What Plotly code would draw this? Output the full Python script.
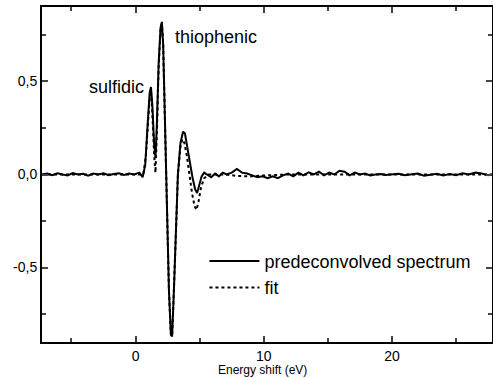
import plotly.graph_objects as go

# predeconvolved spectrum (solid)
spec_x = [-7.3, -6.9, -6.5, -6.1, -5.7, -5.3, -4.9, -4.5, -4.1, -3.7, -3.3, -2.9, -2.5, -2.1,
          -1.7, -1.3, -0.9, -0.5, -0.1, 0.3, 0.55, 0.75, 0.95, 1.1, 1.2, 1.3, 1.45, 1.55, 1.65,
          1.8, 1.95, 2.05, 2.15, 2.3, 2.45, 2.6, 2.75, 2.85, 3.0, 3.15, 3.3, 3.5, 3.7, 3.85,
          4.05, 4.25, 4.45, 4.65, 4.8, 4.95, 5.15, 5.35, 5.6, 5.9, 6.2, 6.5, 6.8, 7.1, 7.5,
          7.9, 8.3, 8.7, 9.1, 9.5, 9.9, 10.3, 10.7, 11.1, 11.5, 11.9, 12.3, 12.7, 13.1, 13.5,
          13.9, 14.3, 14.7, 15.1, 15.5, 15.9, 16.3, 16.7, 17.1, 17.5, 17.9, 18.3, 18.7, 19.1,
          19.5, 20.0, 20.5, 21.0, 21.5, 22.0, 22.5, 23.0, 23.5, 24.0, 24.5, 25.0, 25.5, 26.0,
          26.5, 27.0, 27.5, 27.8]
spec_y = [0.0, 0.005, -0.004, 0.006, 0.0, -0.005, 0.008, 0.0, 0.004, -0.006, 0.005, 0.0, 0.007,
          -0.004, 0.003, 0.006, -0.003, 0.005, 0.0, 0.01, -0.015, 0.05, 0.28, 0.44, 0.47, 0.38,
          0.16, 0.09, 0.25, 0.6, 0.79, 0.82, 0.70, 0.25, -0.25, -0.62, -0.86, -0.87, -0.6,
          -0.3, 0.0, 0.17, 0.23, 0.22, 0.15, 0.06, -0.02, -0.08, -0.10, -0.06, -0.01, 0.01,
          0.0, -0.015, 0.005, -0.01, 0.01, 0.0, 0.01, 0.03, 0.01, 0.005, -0.005, -0.015, -0.01,
          -0.02, -0.01, -0.02, -0.005, 0.005, -0.01, 0.01, -0.005, 0.012, 0.0, 0.015, -0.005,
          0.01, 0.0, 0.02, 0.015, -0.005, 0.01, 0.0, 0.005, -0.005, 0.0, 0.003, -0.003, 0.0,
          0.004, -0.004, 0.0, 0.005, -0.006, 0.0, 0.004, -0.005, 0.002, -0.004, 0.006, 0.0,
          0.01, 0.005, -0.004, 0.0]

# fit (dotted)
fit_x = [-7.3, 0.4, 0.6, 0.8, 0.95, 1.1, 1.2, 1.3, 1.45, 1.55, 1.65, 1.8, 1.95, 2.05, 2.15,
         2.3, 2.45, 2.6, 2.75, 2.85, 3.0, 3.15, 3.3, 3.5, 3.65, 3.8, 4.0, 4.2, 4.4, 4.6, 4.75,
         4.9, 5.1, 5.35, 5.7, 6.2, 7.0, 8.0, 9.0, 10.0, 12.0, 15.0, 20.0, 27.8]
fit_y = [0.0, 0.0, 0.0, 0.1, 0.28, 0.42, 0.45, 0.34, 0.1, 0.01, 0.2, 0.58, 0.78, 0.81, 0.70,
         0.25, -0.25, -0.62, -0.85, -0.87, -0.6, -0.25, 0.0, 0.15, 0.19, 0.17, 0.1, 0.0, -0.1,
         -0.17, -0.19, -0.15, -0.07, -0.02, 0.0, 0.0, 0.0, -0.008, -0.01, -0.005, 0.0, 0.0,
         0.0, 0.0]

y_ticks = [-0.5, 0.0, 0.5]
y_ticktext = ["-0,5", "0,0", "0,5"]
x_ticks = [0, 10, 20]

font = "Liberation Sans, Arial, sans-serif"

fig = go.Figure()
fig.add_trace(go.Scatter(x=spec_x, y=spec_y, mode='lines', name='predeconvolved spectrum',
                         line=dict(color='black', width=2)))
fig.add_trace(go.Scatter(x=fit_x, y=fit_y, mode='lines', name='fit',
                         line=dict(color='black', width=2, dash='dot')))

fig.add_annotation(x=-1.5, y=0.47, text='sulfidic', showarrow=False,
                   font=dict(size=18, color='black', family=font))
fig.add_annotation(x=6.3, y=0.74, text='thiophenic', showarrow=False,
                   font=dict(size=18, color='black', family=font))
fig.add_annotation(x=0.49, y=-0.085, xref='paper', yref='paper', yanchor='middle',
                   text='Energy shift (eV)', showarrow=False,
                   font=dict(size=12, color='black', family=font))

fig.update_layout(
    width=493, height=378,
    margin=dict(l=42, r=1, t=7, b=36),
    paper_bgcolor='white', plot_bgcolor='white',
    font=dict(family=font, color='black'),
    showlegend=True,
    legend=dict(x=0.361, y=0.296, xanchor='left', yanchor='top', bgcolor='rgba(0,0,0,0)',
                font=dict(size=18), itemwidth=50, tracegroupgap=0),
)
fig.update_xaxes(
    range=[-7.3, 27.8], tickvals=x_ticks, ticks='inside', ticklen=6, tickwidth=1.5,
    minor=dict(tickvals=[-5, 5, 15, 25], ticks='inside', ticklen=4, tickwidth=1.5),
    showline=True, linecolor='black', linewidth=2, mirror='allticks', showgrid=False,
    zeroline=False, tickfont=dict(size=14), automargin=False,
)
fig.update_yaxes(
    range=[-0.9, 0.9], tickvals=y_ticks, ticktext=y_ticktext, ticks='inside', ticklen=6,
    tickwidth=1.5,
    minor=dict(tickvals=[-0.75, -0.25, 0.25, 0.75], ticks='inside', ticklen=4, tickwidth=1.5),
    showline=True, linecolor='black', linewidth=2, mirror='allticks', showgrid=False,
    zeroline=False, tickfont=dict(size=14), automargin=False,
)

fig.write_html("out.html", config={'displayModeBar': False},
               post_script="document.body.style.margin='0';")
